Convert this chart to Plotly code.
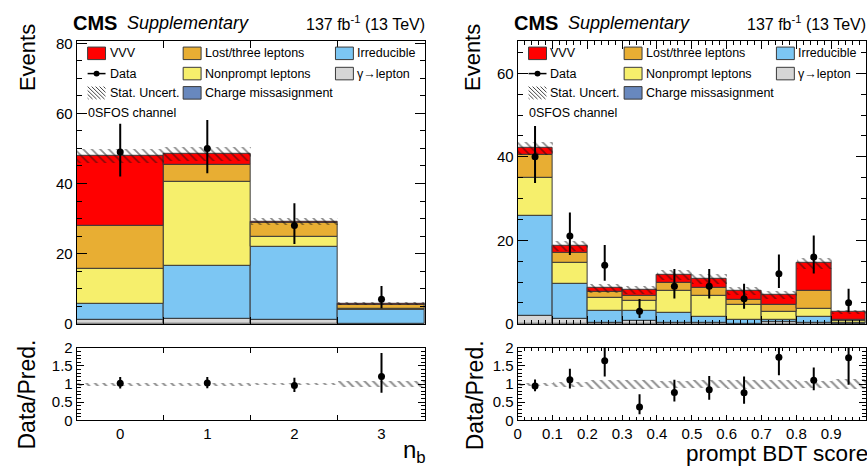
import numpy as np
import plotly.graph_objects as go

W, H = 867, 472
FONT = "Liberation Sans, Arial, Helvetica, sans-serif"

# ---------------- n_b distribution (0SFOS channel) ----------------
nb_centers = [0, 1, 2, 3]
nb_width = 1.0
nb_gamma = [1.2, 1.4, 1.2, 0.1]
nb_charge = [0.0, 0.0, 0.0, 0.0]
nb_irreducible = [4.5, 15.1, 20.7, 3.9]
nb_nonprompt = [9.9, 23.9, 3.0, 0.3]
nb_lost = [12.4, 4.9, 3.8, 1.0]
nb_vvv = [19.8, 3.2, 0.5, 0.5]
nb_stat = [2.0, 2.0, 1.0, 0.5]
nb_data = [49, 50, 28, 7]
nb_err_lo = [6.98, 7.05, 5.26, 2.58]
nb_err_hi = [8.05, 8.12, 6.36, 3.77]
nb_tick_labels = ["0", "1", "2", "3"]

# ---------------- prompt BDT score (0SFOS channel) ----------------
bdt_centers = [0.05, 0.15, 0.25, 0.35, 0.45, 0.55, 0.65, 0.75, 0.85, 0.95]
bdt_width = 0.1
bdt_gamma = [1.9, 1.2, 0.2, 0.6, 0.2, 0.2, 0.1, 0.4, 0.3, 0.1]
bdt_charge = [0.0] * 10
bdt_irreducible = [23.9, 8.3, 3.0, 2.4, 2.5, 1.5, 0.8, 0.6, 1.4, 0.2]
bdt_nonprompt = [9.2, 5.0, 3.0, 2.6, 5.1, 5.1, 3.6, 1.8, 1.9, 0.3]
bdt_lost = [5.4, 2.4, 1.5, 1.1, 2.0, 1.7, 1.3, 1.7, 4.2, 0.3]
bdt_vvv = [1.7, 1.8, 0.8, 1.5, 1.9, 2.2, 2.1, 2.4, 6.7, 2.0]
bdt_stat = [1.5, 1.2, 1.0, 1.0, 1.2, 1.2, 1.0, 0.9, 1.4, 0.4]
bdt_data = [40, 21, 14, 3, 9, 9, 6, 12, 16, 5]
bdt_err_lo = [6.30, 4.55, 3.70, 1.63, 2.94, 2.94, 2.38, 3.41, 3.97, 2.16]
bdt_err_hi = [7.38, 5.67, 4.87, 2.92, 4.11, 4.11, 3.58, 4.58, 5.14, 3.38]
bdt_tick_vals = [0, 0.1, 0.2, 0.3, 0.4, 0.5, 0.6, 0.7, 0.8, 0.9, 1.0]
bdt_tick_labels = ["0", "0.1", "0.2", "0.3", "0.4", "0.5", "0.6", "0.7", "0.8", "0.9", "1"]

ratio_tick_vals = [0, 0.5, 1, 1.5, 2]
ratio_tick_labels = ["0", "0.5", "1", "1.5", "2"]
RATIO_MAX = 2.0

# process styling (stacked bottom -> top)
COL_GAMMA = "#d6d6d6"
COL_CHARGE = "#6888be"
COL_IRRED = "#7cc6f3"
COL_NONPROMPT = "#f6ef6c"
COL_LOST = "#e8ae33"
COL_VVV = "#ff0000"
EDGE = "#3a3a3a"


def px_x(p):
    return p / W


def px_y(p):
    return 1 - p / H


fig = go.Figure()


def add_panel(xa_top, ya_top, xa_rat, ya_rat, centers, bw, comps, stat, data, elo, ehi):
    centers = np.array(centers, dtype=float)
    base = np.zeros(len(centers))
    for vals, col in comps:
        vals = np.array(vals, dtype=float)
        fig.add_trace(go.Bar(
            x=centers, y=vals, base=base.copy(), width=bw,
            marker=dict(color=col, line=dict(color=EDGE, width=1)),
            xaxis=xa_top, yaxis=ya_top, showlegend=False, hoverinfo="skip"))
        base = base + vals
    pred = base
    stat = np.array(stat, dtype=float)
    # statistical uncertainty band on the prediction
    fig.add_trace(go.Bar(
        x=centers, y=2 * stat, base=pred - stat, width=bw,
        marker=dict(color="rgba(0,0,0,0)", line=dict(width=0),
                    pattern=dict(shape="\\", fgcolor="#111111", bgcolor="rgba(0,0,0,0)",
                                 size=6, solidity=0.28, fillmode="overlay")),
        xaxis=xa_top, yaxis=ya_top, showlegend=False, hoverinfo="skip"))
    data = np.array(data, dtype=float)
    fig.add_trace(go.Scatter(
        x=centers, y=data, mode="markers",
        marker=dict(color="black", size=7),
        error_y=dict(type="data", array=ehi, arrayminus=elo, color="black", thickness=2, width=0),
        xaxis=xa_top, yaxis=ya_top, showlegend=False, hoverinfo="skip"))
    # ratio panel
    rel = stat / pred
    fig.add_trace(go.Bar(
        x=centers, y=2 * rel, base=1 - rel, width=bw,
        marker=dict(color="rgba(0,0,0,0)", line=dict(width=0),
                    pattern=dict(shape="\\", fgcolor="#222222", bgcolor="rgba(0,0,0,0)",
                                 size=6, solidity=0.35, fillmode="overlay")),
        xaxis=xa_rat, yaxis=ya_rat, showlegend=False, hoverinfo="skip"))
    ratio = data / pred
    up = np.array(ehi) / pred
    dn = np.array(elo) / pred
    # keep the error bars inside the ratio frame
    up = np.minimum(ratio + up, RATIO_MAX) - ratio
    dn = ratio - np.maximum(ratio - dn, 0)
    fig.add_trace(go.Scatter(
        x=centers, y=ratio, mode="markers",
        marker=dict(color="black", size=7),
        error_y=dict(type="data", array=up, arrayminus=dn,
                     color="black", thickness=2, width=0),
        xaxis=xa_rat, yaxis=ya_rat, showlegend=False, hoverinfo="skip"))


add_panel("x", "y", "x2", "y2", nb_centers, nb_width,
          [(nb_gamma, COL_GAMMA), (nb_charge, COL_CHARGE), (nb_irreducible, COL_IRRED),
           (nb_nonprompt, COL_NONPROMPT), (nb_lost, COL_LOST), (nb_vvv, COL_VVV)],
          nb_stat, nb_data, nb_err_lo, nb_err_hi)
add_panel("x3", "y3", "x4", "y4", bdt_centers, bdt_width,
          [(bdt_gamma, COL_GAMMA), (bdt_charge, COL_CHARGE), (bdt_irreducible, COL_IRRED),
           (bdt_nonprompt, COL_NONPROMPT), (bdt_lost, COL_LOST), (bdt_vvv, COL_VVV)],
          bdt_stat, bdt_data, bdt_err_lo, bdt_err_hi)

# panel geometry (pixels)
L_X0, L_X1 = 73, 423
R_X0, R_X1 = 516, 866
TOP_Y0, TOP_Y1 = 33, 326.5
RAT_Y0, RAT_Y1 = 351.5, 426.7

tickfont = dict(family=FONT, size=15, color="black")
frame = dict(showline=True, linecolor="black", linewidth=1, mirror="allticks",
             ticks="inside", tickcolor="black", showgrid=False, zeroline=False,
             tickfont=tickfont)

xdom_l = [px_x(L_X0), px_x(L_X1)]
xdom_r = [px_x(R_X0), px_x(R_X1)]
ydom_top = [px_y(TOP_Y1), px_y(TOP_Y0)]
ydom_rat = [px_y(RAT_Y1), px_y(RAT_Y0)]

nb_edges = [0.5, 1.5, 2.5]

fig.update_layout(
    width=W, height=H, margin=dict(l=0, r=0, t=0, b=0),
    paper_bgcolor="white", plot_bgcolor="white", barmode="overlay",
    bargap=0, showlegend=False,
    xaxis=dict(domain=xdom_l, range=[-0.5, 3.5], anchor="y", showticklabels=False,
               tickmode="array", tickvals=nb_edges, ticklen=7, **frame),
    yaxis=dict(domain=ydom_top, range=[0, 80.7], anchor="x", dtick=20, ticklen=10,
               minor=dict(dtick=5, ticklen=5, ticks="inside", tickcolor="black"), **frame),
    xaxis2=dict(domain=xdom_l, range=[-0.5, 3.5], anchor="y2", tickmode="array",
                tickvals=nb_centers, ticktext=nb_tick_labels, ticklen=0,
                minor=dict(tickmode="array", tickvals=nb_edges, ticklen=5, ticks="inside",
                           tickcolor="black"), **frame),
    yaxis2=dict(domain=ydom_rat, range=[0, RATIO_MAX], anchor="x2", tickmode="array",
                tickvals=ratio_tick_vals, ticktext=ratio_tick_labels, ticklen=7,
                minor=dict(dtick=0.1, ticklen=4, ticks="inside", tickcolor="black"), **frame),
    xaxis3=dict(domain=xdom_r, range=[0, 1], anchor="y3", showticklabels=False,
                dtick=0.1, ticklen=8,
                minor=dict(dtick=0.02, ticklen=4, ticks="inside", tickcolor="black"), **frame),
    yaxis3=dict(domain=ydom_top, range=[0, 67.8], anchor="x3", dtick=20, ticklen=10,
                minor=dict(dtick=5, ticklen=5, ticks="inside", tickcolor="black"), **frame),
    xaxis4=dict(domain=xdom_r, range=[0, 1], anchor="y4", tickmode="array",
                tickvals=bdt_tick_vals, ticktext=bdt_tick_labels, ticklen=5,
                minor=dict(dtick=0.02, ticklen=3, ticks="inside", tickcolor="black"), **frame),
    yaxis4=dict(domain=ydom_rat, range=[0, RATIO_MAX], anchor="x4", tickmode="array",
                tickvals=ratio_tick_vals, ticktext=ratio_tick_labels, ticklen=7,
                minor=dict(dtick=0.1, ticklen=4, ticks="inside", tickcolor="black"), **frame),
)

ann = []
shapes = []


def text(x, y, s, size=13, xanchor="left", yanchor="middle", angle=0, bold=False, italic=False):
    ann.append(dict(x=px_x(x), y=px_y(y), xref="paper", yref="paper", text=s,
                    showarrow=False, xanchor=xanchor, yanchor=yanchor, textangle=angle,
                    font=dict(family=FONT, size=size, color="black",
                              weight="bold" if bold else "normal",
                              style="italic" if italic else "normal")))


for x0, x1 in [(L_X0, L_X1), (R_X0, R_X1)]:
    # header
    text(x0 - 6, 15, "CMS", size=20, bold=True)
    text(x0 + 49, 15, "Supplementary", size=18, italic=True)
    text(x1 + 2, 15, "137 fb<sup>-1</sup> (13 TeV)", size=16, xanchor="right")
    text(x0 + 9, 108, "0SFOS channel", size=12.5)

    # legend
    rows = [46, 67, 87]
    cols = [x0 + 11, x0 + 107, x0 + 260]
    bw_, bh_ = 18, 13

    def box(cx, cy, col):
        shapes.append(dict(type="rect", xref="paper", yref="paper",
                           x0=px_x(cx), x1=px_x(cx + bw_), y0=px_y(cy + bh_ / 2), y1=px_y(cy - bh_ / 2),
                           fillcolor=col, line=dict(color=EDGE, width=1)))

    entries = [
        (0, 0, "box", COL_VVV, "VVV"),
        (1, 0, "box", COL_LOST, "Lost/three leptons"),
        (2, 0, "box", COL_IRRED, "Irreducible"),
        (0, 1, "data", None, "Data"),
        (1, 1, "box", COL_NONPROMPT, "Nonprompt leptons"),
        (2, 1, "box", COL_GAMMA, "γ→lepton"),
        (0, 2, "hatch", None, "Stat. Uncert."),
        (1, 2, "box", COL_CHARGE, "Charge missasignment"),
    ]
    for ci, ri, kind, col, label in entries:
        cx, cy = cols[ci], rows[ri]
        if kind == "box":
            box(cx, cy, col)
        elif kind == "data":
            shapes.append(dict(type="line", xref="paper", yref="paper",
                               x0=px_x(cx), x1=px_x(cx + bw_), y0=px_y(cy), y1=px_y(cy),
                               line=dict(color="black", width=1.5)))
            shapes.append(dict(type="circle", xref="paper", yref="paper",
                               x0=px_x(cx + bw_ / 2 - 3), x1=px_x(cx + bw_ / 2 + 3),
                               y0=px_y(cy + 3), y1=px_y(cy - 3),
                               fillcolor="black", line=dict(color="black", width=0)))
        else:
            path = ""
            for k in range(-3, 5):
                ax = cx + k * 4
                bx = ax + bh_
                ya, yb = cy - bh_ / 2, cy + bh_ / 2
                # clip to the box
                if ax < cx:
                    ya += cx - ax
                    ax = cx
                if bx > cx + bw_:
                    yb -= bx - (cx + bw_)
                    bx = cx + bw_
                if bx > ax:
                    path += f"M{px_x(ax)},{px_y(ya)} L{px_x(bx)},{px_y(yb)} "
            shapes.append(dict(type="path", xref="paper", yref="paper", path=path,
                               line=dict(color="#444444", width=1)))
        text(cx + bw_ + 2, cy, label, size=12.5)

# axis titles
text(23, 50, "Events", size=22, xanchor="center", angle=-90)
text(470, 50, "Events", size=22, xanchor="center", angle=-90)
text(23, 400, "Data/Pred.", size=23, xanchor="center", angle=-90)
text(473, 401, "Data/Pred.", size=23, xanchor="center", angle=-90)
text(426, 459, "n<sub>b</sub>", size=24, xanchor="right")
text(870, 461, "prompt BDT score", size=22.5, xanchor="right")

fig.update_layout(annotations=ann, shapes=shapes)
fig.write_html("out.html")
